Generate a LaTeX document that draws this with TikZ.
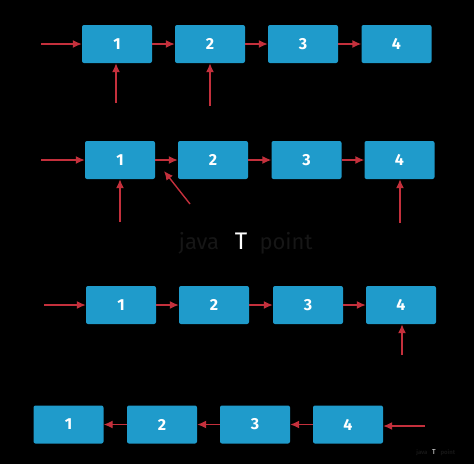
\documentclass[tikz,border=0pt]{standalone}
\usepackage{fontspec}
\setmainfont{Fira Sans}
\usetikzlibrary{arrows.meta}
\definecolor{boxblue}{HTML}{1F9BCB}
\definecolor{arrred}{HTML}{C4303C}
\definecolor{wmgray}{HTML}{161616}
\tikzset{
  lnode/.style={fill=boxblue, rounded corners=2pt, minimum width=70pt, minimum height=38pt, inner sep=0pt, text=white, font=\fontsize{16}{16}\selectfont\bfseries},
  ptr/.style={draw=arrred, line width=1.4pt, -{Latex[length=9pt,width=8pt]}},
  wm/.style={text=wmgray, font=\fontsize{22}{22}\selectfont},
}
\begin{document}
\begin{tikzpicture}[x=1pt,y=-1pt]
\fill[black] (0,0) rectangle (474,464);
\useasboundingbox (0,0) rectangle (474,464);
% row 1
\node[lnode] (a1) at (117,44) {1};
\node[lnode] (a2) at (210,44) {2};
\node[lnode] (a3) at (303,44) {3};
\node[lnode] (a4) at (396.5,44) {4};
\coordinate (a0) at (41,44);
\coordinate (au1) at (116,103);
\coordinate (au2) at (210,106);
\draw[ptr] (a0) -- (a1.west);
\draw[ptr] (a1.east) -- (a2.west);
\draw[ptr] (a2.east) -- (a3.west);
\draw[ptr] (a3.east) -- (a4.west);
\draw[ptr] (au1) -- (a1.south -| au1);
\draw[ptr] (au2) -- (a2.south -| au2);
% row 2
\node[lnode] (b1) at (120,160) {1};
\node[lnode] (b2) at (213,160) {2};
\node[lnode] (b3) at (306.5,160) {3};
\node[lnode] (b4) at (399.5,160) {4};
\coordinate (b0) at (41,160);
\coordinate (bu1) at (120,222);
\coordinate (bd) at (190,204);
\coordinate (bdt) at (164,171);
\coordinate (bu4) at (400,223);
\draw[ptr] (b0) -- (b1.west);
\draw[ptr] (b1.east) -- (b2.west);
\draw[ptr] (b2.east) -- (b3.west);
\draw[ptr] (b3.east) -- (b4.west);
\draw[ptr] (bu1) -- (b1.south -| bu1);
\draw[ptr] (bd) -- (bdt);
\draw[ptr] (bu4) -- (b4.south -| bu4);
% watermark
\node[wm, anchor=base] (wj) at (199,249) {java};
\node[anchor=base, text=white, font=\fontsize{24}{24}\selectfont] (wt) at (241,249) {T};
\node[wm, anchor=base] (wp) at (286,249) {point};
% row 3
\node[lnode] (c1) at (121,305) {1};
\node[lnode] (c2) at (214,305) {2};
\node[lnode] (c3) at (308,305) {3};
\node[lnode] (c4) at (401,305) {4};
\coordinate (c0) at (44,305);
\coordinate (cu4) at (402,355);
\draw[ptr] (c0) -- (c1.west);
\draw[ptr] (c1.east) -- (c2.west);
\draw[ptr] (c2.east) -- (c3.west);
\draw[ptr] (c3.east) -- (c4.west);
\draw[ptr] (cu4) -- (c4.south -| cu4);
% row 4
\node[lnode] (d1) at (68.5,424.5) {1};
\node[lnode] (d2) at (162,424.5) {2};
\node[lnode] (d3) at (255,424.5) {3};
\node[lnode] (d4) at (348,424.5) {4};
\coordinate (d0) at (425,426);
\draw[ptr] (d0) -- (d4.east |- d0);
\draw[ptr] (d4.west) -- (d3.east);
\draw[ptr] (d3.west) -- (d2.east);
\draw[ptr] (d2.west) -- (d1.east);
% small watermark
\node[text=wmgray, font=\fontsize{6}{6}\selectfont\bfseries, anchor=base east] (sj) at (431,454) {java};
\node[text=white, font=\fontsize{7}{7}\selectfont, anchor=base] (st) at (434,454) {T};
\node[text=wmgray, font=\fontsize{6}{6}\selectfont\bfseries, anchor=base west] (sp) at (437,454) {point};
\end{tikzpicture}
\end{document}
